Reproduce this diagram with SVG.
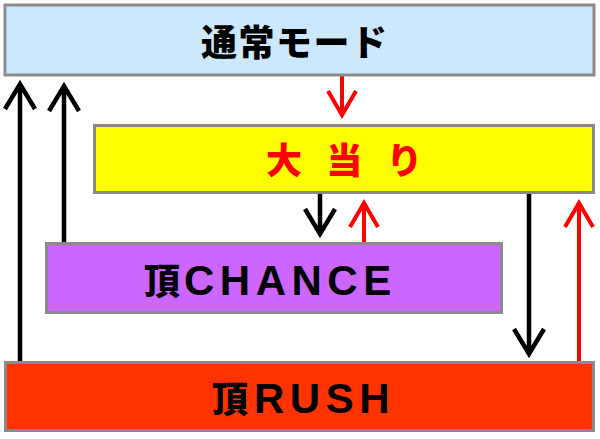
<svg xmlns="http://www.w3.org/2000/svg" width="600" height="439" viewBox="0 0 600 439">
<defs>
<style>
.box{stroke:#8a8a8a;stroke-width:3}
.jp{font-family:"Noto Sans CJK JP","Noto Sans CJK SC",sans-serif;font-weight:900}
.lat{font-family:"Liberation Sans",Arial,sans-serif;font-weight:700;font-size:42px;letter-spacing:5.5px}
.blk{stroke:#000;stroke-width:4.5;fill:none;stroke-linejoin:miter;stroke-miterlimit:10}
.red{stroke:#ff0000;stroke-width:4;fill:none;stroke-linejoin:miter;stroke-miterlimit:10}
</style>
</defs>
<rect width="600" height="439" fill="#ffffff"/>
<g id="connectors">
<path class="blk" d="M20,361 L20,84 M5,109 L20,84 L35,109"/>
<path class="blk" d="M64,242 L64,86 M49,111 L64,86 L79,111"/>
<path class="red" d="M342,76 L342,115 M328,91 L342,115 L356,91"/>
<path class="blk" d="M320,194 L320,234 M305,209 L320,234 L335,209"/>
<path class="red" d="M364,242 L364,203 M350,227 L364,203 L378,227"/>
<path class="blk" d="M529,194 L529,354 M514,329 L529,354 L544,329"/>
<path class="red" d="M579,361 L579,203 M565,227 L579,203 L593,227"/>
</g>
<g id="node-normal">
<rect class="box" x="5" y="5" width="589" height="70" fill="#cce8fc"/>
<text class="jp" x="201" y="56" font-size="36" letter-spacing="1.5" fill="#000">通常モード</text>
</g>
<g id="node-jackpot">
<rect class="box" x="94.5" y="125.5" width="499" height="67" fill="#ffff00"/>
<text class="jp" x="266" y="174" font-size="36" letter-spacing="8" fill="#ff0000" xml:space="preserve">大 当 り</text>
</g>
<g id="node-chance">
<rect class="box" x="46.5" y="243.5" width="455" height="69" fill="#cc66ff"/>
<text x="144" y="295" fill="#000"><tspan class="jp" font-size="36">頂</tspan><tspan class="lat" x="184">CHANCE</tspan></text>
</g>
<g id="node-rush">
<rect class="box" x="5.5" y="362.5" width="588" height="68" fill="#ff3300"/>
<text x="212" y="413" fill="#000"><tspan class="jp" font-size="36">頂</tspan><tspan class="lat" x="254">RUSH</tspan></text>
</g>
</svg>
